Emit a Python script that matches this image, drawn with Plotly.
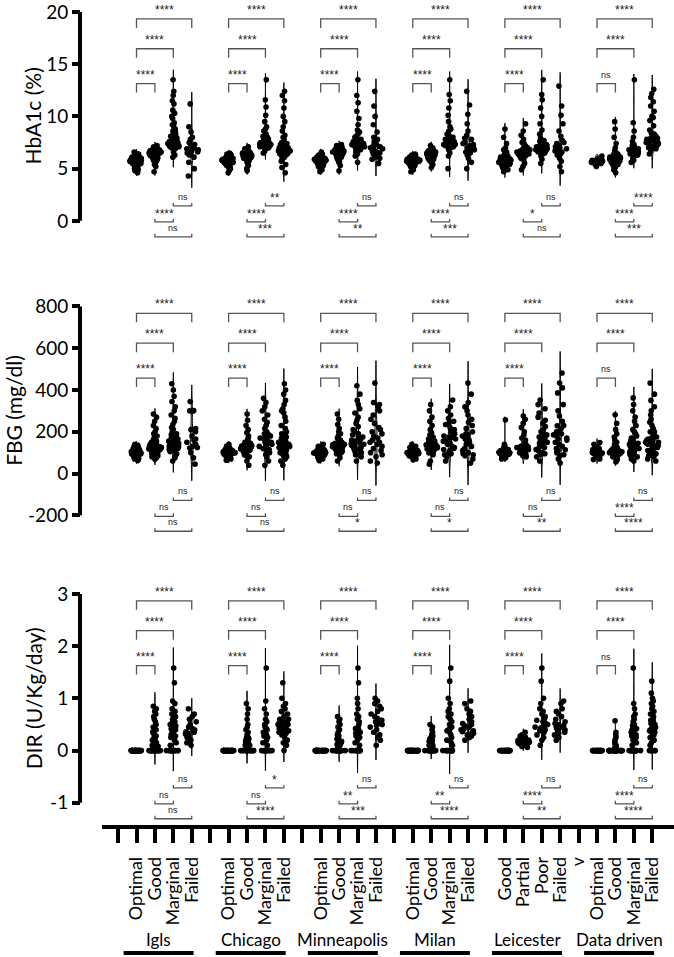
import plotly.graph_objects as go

FONT = "Lato"
W, H = 674, 957

# ---------------- categories ----------------
centres = ["Igls", "Chicago", "Minneapolis", "Milan", "Leicester", "Data driven"]
class_labels = [
    ["Optimal", "Good", "Marginal", "Failed"],
    ["Optimal", "Good", "Marginal", "Failed"],
    ["Optimal", "Good", "Marginal", "Failed"],
    ["Optimal", "Good", "Marginal", "Failed"],
    ["Good", "Partial", "Poor", "Failed"],
    ["Optimal", "Good", "Marginal", "Failed"],
]
gap_labels = ["", "", "", "", "v"]

# ---------------- HbA1c (%) ----------------
hba_igls_opt = [5.8,5.6,5.9,6.0,5.7,5.5,5.8,6.1,5.4,5.9,5.7,6.2,5.3,5.8,6.0,5.6,5.9,5.2,6.3,5.7,5.8,5.5,6.1,4.9,6.4,5.0,5.8,5.6,6.0,4.6,6.6,5.7,5.9,5.4,6.2,5.8,
                5.8,5.9,5.7,6.0,5.6,5.8,5.5,6.1,5.9,5.7,5.4,6.2,5.8,5.6,6.0,5.3,5.9,6.3,5.7,5.1,6.0,5.8,5.5,6.4,5.6,4.8,5.9,6.1,5.7,5.2]
hba_igls_good = [6.5,6.3,6.6,6.8,6.2,6.4,6.7,6.0,6.9,6.5,5.8,6.6,7.0,6.1,6.4,5.5,6.8,6.3,7.2,6.6,5.2,6.5,6.2,4.7,6.9,6.7,6.0,6.4,5.9,6.6,
                 6.5,6.6,6.4,6.7,6.3,6.5,6.8,6.2,6.6,6.9,6.1,6.5,6.7,6.3,6.0,6.4,6.8,5.7,6.6,7.1,6.2,5.4,6.5,6.9]
hba_igls_marg = [7.0,7.2,7.1,7.4,7.6,7.3,7.8,8.0,7.5,7.1,8.3,6.9,7.7,8.6,7.2,9.0,7.4,6.6,8.2,9.4,7.0,7.9,10.0,6.3,8.5,10.6,7.3,11.2,7.6,12.0,8.8,12.4,6.1,13.5,7.0,9.8,7.2,11.5,7.5,8.1,
                 7.1,7.3,7.0,7.5,7.2,7.8,7.4,8.1,7.6,7.0,8.4,7.3,9.2,7.7,10.3]
hba_igls_fail = [6.5,6.8,7.0,6.3,7.5,6.7,8.0,6.1,7.2,5.6,6.9,8.5,6.4,5.0,7.8,4.3,6.6,11.2,7.3,9.0]

hba_chi_opt = [5.8,5.7,5.9,6.0,5.6,5.5,5.8,6.1,5.4,5.9,5.7,6.2,5.3,5.8,6.0,5.6,5.9,5.1,6.3,5.7,5.8,5.5,6.1,4.8,6.4,5.0,5.8,5.6,6.0,4.6,6.5,5.7,
               5.8,5.9,5.7,6.0,5.6,5.8,5.5,6.1,5.9,5.7,5.4,6.2,5.8,5.6,6.0,5.3,5.9,6.3,5.7,5.2,6.0,5.8,5.5,6.4]
hba_chi_good = [6.3,6.1,6.4,6.6,6.0,6.2,6.5,5.8,6.7,6.3,5.6,6.4,6.9,5.9,6.2,5.3,6.6,6.1,7.1,6.4,5.0,6.3,6.0,4.8,6.8,6.5,5.7,6.2,
                6.3,6.4,6.2,6.5,6.1,6.3,6.6,6.0,6.4,6.7,5.9,6.3,6.5,6.1,5.8,6.2,6.6,5.5,6.4,6.9]
hba_chi_marg = [7.0,7.1,7.2,7.0,7.3,7.4,7.1,7.5,7.2,7.6,7.3,7.8,7.0,8.0,7.4,8.3,7.1,8.6,7.6,9.0,7.2,9.5,7.3,10.1,7.7,10.9,8.1,11.6,7.4,13.5,6.7,7.9,6.5,
                7.0,7.2,7.1,7.3,7.5,7.2,7.8,7.4,8.2,7.6,8.8]
hba_chi_fail = [6.7,6.9,6.5,7.1,6.3,7.3,6.8,6.1,7.5,6.6,7.8,6.0,7.0,8.2,6.4,5.7,8.6,6.9,5.4,9.0,6.6,9.5,7.2,5.1,10.0,6.8,10.8,7.4,4.6,11.5,12.0,12.4,8.0,6.2,
                6.7,6.8,6.6,7.0,6.5,7.2,6.9,6.4,7.4,6.7]

hba_min_opt = [5.8,5.6,5.9,6.0,5.7,5.5,5.8,6.1,5.4,5.9,5.7,6.2,5.3,5.8,6.0,5.6,5.9,5.2,6.3,5.7,5.8,5.5,6.1,4.9,6.4,5.0,5.8,5.6,6.0,4.7,6.6,
               5.8,5.9,5.7,6.0,5.6,5.8,5.5,6.1,5.9,5.7,5.4,6.2,5.8,5.6,6.0,5.3,5.9,6.3,5.7,5.1,6.0]
hba_min_good = [6.6,6.4,6.7,6.9,6.3,6.5,6.8,6.1,7.0,6.6,5.9,6.7,7.1,6.2,6.5,5.6,6.9,6.4,7.3,6.7,5.3,6.6,6.3,4.8,7.0,6.8,6.1,6.5,
                6.6,6.7,6.5,6.8,6.4,6.6,6.9,6.3,6.7,7.0,6.2,6.6,6.8,6.4,6.0,6.5,5.7,7.2]
hba_min_marg = [7.0,7.2,6.8,7.4,7.1,7.6,6.9,7.8,7.3,8.0,6.6,7.5,8.3,7.1,8.7,6.4,7.7,9.2,7.0,9.8,6.2,8.1,10.5,7.4,11.3,5.6,12.0,13.5,7.2,8.5,
                7.0,7.1,7.3,6.9,7.5,7.2,7.7,7.0,7.9,7.4]
hba_min_fail = [6.7,6.9,6.5,7.1,6.3,7.3,6.8,6.1,7.6,6.6,8.0,5.9,7.0,8.5,6.4,5.5,9.2,6.9,10.0,7.2,11.0,12.4,6.0,7.8]

hba_mil_opt = [5.7,5.6,5.9,6.0,5.7,5.5,5.8,6.1,5.4,5.9,5.7,6.2,5.3,5.8,6.0,5.6,5.9,5.2,6.3,5.7,5.8,5.5,6.1,4.9,6.4,5.0,5.8,5.6,6.0,4.7,
               5.8,5.9,5.7,6.0,5.6,5.8,5.5,6.1,5.9,5.7,5.4,6.2,5.8,5.6,6.0,5.3,5.9,6.3,5.7,5.1,6.0]
hba_mil_good = [6.4,6.2,6.5,6.7,6.1,6.3,6.6,5.9,6.8,6.4,5.7,6.5,7.0,6.0,6.3,5.4,6.7,6.2,7.2,6.5,5.1,6.4,6.1,6.9,6.6,5.8,
                6.4,6.5,6.3,6.6,6.2,6.4,6.7,6.1,6.5,6.8,6.0,6.4,6.6,6.2,5.9,6.3,6.7,5.6]
hba_mil_marg = [7.2,7.4,7.0,7.6,7.3,7.8,7.1,8.0,7.5,8.3,6.8,7.7,8.6,7.2,9.0,6.5,7.9,9.5,7.4,10.1,6.2,8.2,10.8,7.0,11.5,5.0,12.1,13.5,7.6,8.8,
                7.1,7.3,7.2,7.5,7.0,7.4,7.7,7.3,8.1,7.6]
hba_mil_fail = [6.9,7.1,6.7,7.3,6.5,7.5,7.0,6.3,7.8,6.8,8.2,6.0,7.2,8.6,6.6,5.6,9.3,7.0,10.2,7.4,11.1,12.4,5.0,7.9,6.4]

hba_lei_good = [5.7,5.5,5.9,6.1,5.3,5.8,6.3,5.1,6.0,5.6,6.5,4.9,5.8,6.8,5.4,7.0,4.7,6.2,7.4,5.7,8.0,6.0,8.8,5.2,6.6,
                5.7,5.8,5.6,5.9,5.5,6.0,5.4,6.2,5.7,5.3,6.4,5.9]
hba_lei_part = [6.6,6.4,6.8,6.2,7.0,6.5,7.2,6.0,6.7,7.5,5.8,6.9,7.8,5.5,6.3,8.2,5.2,7.1,8.6,6.6,9.3,4.9,7.4,6.1,
                6.6,6.7,6.5,6.8,6.4,6.9,6.3,7.0,6.6,6.2]
hba_lei_poor = [6.9,7.1,6.7,7.3,6.5,7.6,6.8,6.2,7.9,7.0,8.3,5.9,7.2,8.7,6.6,5.5,9.3,7.4,10.0,6.8,10.8,11.6,12.1,13.5,7.7,6.4,
                6.9,7.0,6.8,7.2,6.7,7.4,7.1]
hba_lei_fail = [6.7,6.9,6.5,7.1,6.3,7.4,6.8,6.0,7.7,6.6,8.1,5.7,7.0,8.6,6.4,5.2,9.3,7.2,10.1,11.0,12.9,4.7,7.5]

hba_dd_opt = [5.7,5.6,5.8,5.7,5.5,5.9,5.6,5.8,5.4,6.0,5.7,5.2,6.2,5.6,5.8]
hba_dd_good = [5.9,5.7,6.1,5.8,6.3,5.5,6.0,6.5,5.3,5.9,6.7,5.1,6.2,5.8,7.0,4.9,6.4,7.4,5.6,8.0,4.6,6.1,8.8,9.5,5.7,6.0,
               5.9,6.0,5.8,6.1,5.7,6.2,5.6,6.3,5.9,5.5,6.0,5.8,6.4,5.4]
hba_dd_marg = [6.6,6.4,6.8,6.5,7.0,6.2,6.7,7.3,6.0,6.9,7.6,5.8,6.6,8.0,5.6,7.2,8.6,6.3,9.4,6.8,13.5,6.5,
               6.6,6.7,6.5,6.8,6.4,6.9,6.3,7.1]
hba_dd_fail = [7.5,7.7,7.3,7.9,7.1,8.1,7.6,6.9,8.4,7.4,8.7,6.7,7.8,9.1,7.2,9.6,6.4,8.0,10.0,7.0,10.5,11.0,11.4,11.8,12.2,12.6,8.3,9.9,
               7.5,7.6,7.4,7.8,7.3,7.9,7.2,8.2,7.6,7.0]

# ---------------- FBG (mg/dl) ----------------
fbg_igls_opt = [100,95,105,110,90,102,98,115,85,108,120,80,100,125,75,96,130,70,104,140,92,112,62,100,88,
                100,105,95,110,92,98,115,88,102,120,85,108,96,125,80,104,112,78,130,100,94,118,72,106,135]
fbg_igls_good = [120,115,125,130,110,135,105,140,118,145,100,150,122,160,95,170,128,180,90,190,112,200,85,215,132,230,80,250,138,270,75,285,118,68,155,
                 122,118,128,112,132,108,138,125,145,115,150,120,130,110,160,125]
fbg_igls_marg = [150,140,160,130,170,145,180,125,190,135,200,120,210,155,220,115,235,165,250,110,265,175,280,105,300,185,320,95,345,140,370,90,400,430,75,60,160,130,
                 145,150,140,155,135,160,130,165,150,125]
fbg_igls_fail = [345,300,302,298,215,200,180,165,160,150,130,125,122,100,75,45,210,140]

fbg_chi_opt = [100,96,104,110,90,102,98,115,85,108,120,80,100,125,75,96,132,70,104,140,92,112,64,100,
               100,105,95,110,92,98,115,88,102,120,85,108,96,125,80,104,112]
fbg_chi_good = [120,115,125,130,110,135,105,140,118,145,100,150,122,160,95,170,128,180,90,195,112,210,85,230,132,255,80,285,138,60,40,150,
                122,118,128,112,132,108,138,125,145,115,120,130]
fbg_chi_marg = [150,145,155,140,160,135,170,130,180,125,190,150,200,120,215,165,230,115,245,175,260,110,280,100,300,90,320,340,360,80,60,40,185]
fbg_chi_fail = [130,140,120,150,110,160,125,170,100,180,135,190,95,200,145,215,90,230,155,250,85,270,165,290,80,300,310,70,330,350,60,380,400,430,40,175,125,
                130,135,125,140,120,145,115,150]

fbg_min_opt = [100,95,105,110,90,102,98,115,85,108,120,80,100,125,75,96,130,70,104,140,92,112,62,
               100,105,95,110,92,98,115,88,102,120,85,108,96,125,80,104]
fbg_min_good = [130,125,135,140,120,145,115,150,128,155,110,160,132,170,105,180,138,190,100,200,122,215,95,235,142,260,90,285,75,60,
                130,126,134,122,140,118,145,128,150,112]
fbg_min_marg = [160,150,170,140,180,135,190,130,200,125,210,155,225,120,240,165,255,115,270,175,290,105,310,100,330,90,350,380,420,80,60,185,145]
fbg_min_fail = [180,160,200,150,220,140,240,130,260,120,280,170,300,110,320,100,340,90,190,80,60,210,150,50,330,433]

fbg_mil_opt = [100,95,105,110,90,102,98,115,85,108,120,80,100,125,75,96,130,70,104,140,92,112,66,
               100,105,95,110,92,98,115,88,102,120,85,108,96,125,80]
fbg_mil_good = [133,128,138,143,123,148,118,153,130,158,113,165,135,175,108,185,140,195,103,210,125,230,98,250,145,270,90,300,330,60,45,
                133,129,137,124,142,120,150,130,155,115]
fbg_mil_marg = [160,150,170,140,180,130,190,125,200,120,210,155,220,115,235,165,250,110,265,175,280,100,300,95,320,90,352,80,60,185,145,240]
fbg_mil_fail = [170,160,180,150,190,140,200,130,215,120,230,165,245,110,260,100,280,95,300,90,320,85,340,380,433,70,50,185,150]

fbg_lei_good = [100,95,105,110,90,102,98,115,85,108,120,80,100,125,75,130,70,104,140,257,92,112,
                100,104,96,108,92,112,88,118,100,95]
fbg_lei_part = [115,110,120,125,105,130,100,135,118,140,95,150,122,160,90,170,128,185,85,200,112,220,80,240,260,275,132,
                115,120,110,125,105,130]
fbg_lei_poor = [160,150,170,140,180,130,190,125,200,120,210,155,225,115,240,165,255,110,270,175,290,100,310,95,330,90,352,80,60,185,145]
fbg_lei_fail = [170,160,180,150,190,140,200,130,215,120,230,165,114,110,250,100,275,90,300,85,330,386,410,433,481,70,50,185,200,229]

fbg_dd_opt = [100,95,105,110,90,102,98,115,85,108,120,80,100,125,75,96,130,70,104,140,92,112,67,148]
fbg_dd_good = [100,95,105,110,90,102,98,115,85,108,120,80,100,125,75,130,70,104,140,92,112,150,160,175,190,210,240,281,65,55,96,
               100,104,96,108,92,112,88,118,100,95,106,98]
fbg_dd_marg = [133,128,138,120,145,115,150,110,160,105,170,100,180,95,190,140,200,90,210,125,230,85,250,80,270,300,330,362,70,60,155,
               130,135,125,140,120,145]
fbg_dd_fail = [150,140,160,130,170,125,180,120,190,115,200,110,215,100,230,95,245,165,260,90,280,85,300,80,320,70,350,380,433,60,175,140,200,
               150,145,155,140,160,135]

# ---------------- DIR (U/Kg/day) ----------------
dir_igls_opt = [0] * 30
dir_igls_good = [0] * 14 + [0.05,0.08,0.1,0.12,0.15,0.18,0.2,0.22,0.25,0.28,0.3,0.33,0.36,0.4,0.45,0.5,0.55,0.6,0.65,0.7,0.75,0.8,0.85,0.15,0.2,0.1]
dir_igls_marg = [0] * 12 + [0.1,0.15,0.2,0.25,0.3,0.33,0.36,0.4,0.42,0.45,0.5,0.55,0.6,0.65,0.7,0.75,0.8,0.9,0.95,1.3,1.58,0.38,0.28,0.47,0.52,0.62]
dir_igls_fail = [0.35,0.3,0.4,0.33,0.45,0.28,0.5,0.25,0.55,0.38,0.6,0.2,0.65,0.42,0.7,0.15,0.8,0.32,0.36,0.1]

dir_chi_opt = [0] * 30
dir_chi_good = [0] * 12 + [0.05,0.1,0.12,0.15,0.18,0.2,0.22,0.25,0.3,0.35,0.4,0.45,0.5,0.6,0.7,0.8,0.9,0.15,0.2,0.1,0.25]
dir_chi_marg = [0] * 10 + [0.1,0.15,0.2,0.25,0.3,0.35,0.4,0.45,0.5,0.55,0.6,0.7,0.8,0.95,1.58,0.33,0.28,0.42]
dir_chi_fail = [0.45,0.4,0.5,0.35,0.55,0.3,0.6,0.42,0.65,0.25,0.7,0.38,0.75,0.2,0.8,0.48,0.85,0.15,0.9,0.52,1.0,0.1,1.3,0,0.58,0.33,
                0.45,0.5,0.4,0.55,0.35,0.6]

dir_min_opt = [0] * 30
dir_min_good = [0] * 12 + [0.05,0.08,0.1,0.12,0.15,0.18,0.2,0.22,0.25,0.28,0.3,0.35,0.4,0.45,0.5,0.55,0.6,0.65,0.12,0.18]
dir_min_marg = [0] * 10 + [0.1,0.15,0.2,0.25,0.3,0.35,0.4,0.45,0.5,0.55,0.6,0.65,0.7,0.8,0.9,1.0,1.3,1.58,0.38,0.42,0.28,0.33]
dir_min_fail = [0.55,0.5,0.6,0.45,0.65,0.4,0.7,0.35,0.75,0.3,0.8,0.58,0.85,0.25,0.9,0.48,0.95,0.2,1.0,0.62,0.1,0.52]

dir_mil_opt = [0] * 30
dir_mil_good = [0] * 12 + [0.05,0.08,0.1,0.12,0.14,0.16,0.18,0.2,0.22,0.25,0.28,0.3,0.35,0.4,0.45,0.5,0.15,0.1]
dir_mil_marg = [0] * 10 + [0.1,0.15,0.2,0.25,0.3,0.35,0.4,0.45,0.5,0.55,0.6,0.65,0.7,0.75,0.8,0.9,1.0,1.33,1.58,0.38,0.42]
dir_mil_fail = [0.4,0.38,0.45,0.35,0.5,0.3,0.55,0.42,0.6,0.25,0.65,0.48,0.7,0.2,0.75,0.33,0.8,0.52,0.9,0.95,0.36,0.28]

dir_lei_good = [0] * 25
dir_lei_part = [0.17,0.15,0.19,0.14,0.2,0.12,0.22,0.16,0.24,0.1,0.18,0.26,0.08,0.21,0.28,0.13,0.3,0.06,0.35,0.17,0.19,0.15]
dir_lei_poor = [0.45,0.4,0.5,0.35,0.55,0.42,0.6,0.3,0.65,0.48,0.7,0.25,0.75,0.38,0.8,0.52,0.9,0.2,1.0,0.44,1.33,1.58,0.1,0.58]
dir_lei_fail = [0.45,0.4,0.5,0.35,0.55,0.42,0.6,0.3,0.65,0.48,0.7,0.25,0.75,0.38,0.8,0.2,0.9,0.52,0.95,0.44,0.33]

dir_dd_opt = [0] * 20
dir_dd_good = [0] * 30 + [0.05,0.08,0.1,0.12,0.15,0.2,0.25,0.3,0.35,0.57]
dir_dd_marg = [0] * 12 + [0.1,0.15,0.2,0.25,0.3,0.35,0.4,0.45,0.5,0.55,0.6,0.65,0.7,0.8,0.9,1.58,0.28,0.33,0.38,0.42,0.48]
dir_dd_fail = [0] * 6 + [0.4,0.35,0.45,0.3,0.5,0.38,0.55,0.25,0.6,0.42,0.65,0.2,0.7,0.48,0.75,0.15,0.8,0.52,0.85,0.1,0.9,0.58,0.95,1.0,1.1,1.33,0.36,0.44,0.32]

# ---------------- significance labels ----------------
# upper brackets: (1st vs 2nd), (1st vs 3rd), (1st vs 4th)
# lower brackets: (3rd vs 4th), (2nd vs 3rd), (2nd vs 4th)
hba_sig_top = [["****", "****", "****"]] * 5 + [["ns", "****", "****"]]
hba_sig_bot = [["ns", "****", "ns"], ["**", "****", "***"], ["ns", "****", "**"],
               ["ns", "****", "***"], ["ns", "*", "ns"], ["****", "****", "***"]]
fbg_sig_top = [["****", "****", "****"]] * 5 + [["ns", "****", "****"]]
fbg_sig_bot = [["ns", "ns", "ns"], ["ns", "ns", "ns"], ["ns", "ns", "*"],
               ["ns", "ns", "*"], ["ns", "ns", "**"], ["ns", "****", "****"]]
dir_sig_top = [["****", "****", "****"]] * 5 + [["ns", "****", "****"]]
dir_sig_bot = [["ns", "ns", "ns"], ["*", "ns", "****"], ["ns", "**", "***"],
               ["ns", "**", "****"], ["ns", "****", "**"], ["ns", "****", "****"]]

hba_ticks = [0, 5, 10, 15, 20]
fbg_ticks = [-200, 0, 200, 400, 600, 800]
dir_ticks = [-1, 0, 1, 2, 3]

hba_data = [[hba_igls_opt, hba_igls_good, hba_igls_marg, hba_igls_fail],
            [hba_chi_opt, hba_chi_good, hba_chi_marg, hba_chi_fail],
            [hba_min_opt, hba_min_good, hba_min_marg, hba_min_fail],
            [hba_mil_opt, hba_mil_good, hba_mil_marg, hba_mil_fail],
            [hba_lei_good, hba_lei_part, hba_lei_poor, hba_lei_fail],
            [hba_dd_opt, hba_dd_good, hba_dd_marg, hba_dd_fail]]
fbg_data = [[fbg_igls_opt, fbg_igls_good, fbg_igls_marg, fbg_igls_fail],
            [fbg_chi_opt, fbg_chi_good, fbg_chi_marg, fbg_chi_fail],
            [fbg_min_opt, fbg_min_good, fbg_min_marg, fbg_min_fail],
            [fbg_mil_opt, fbg_mil_good, fbg_mil_marg, fbg_mil_fail],
            [fbg_lei_good, fbg_lei_part, fbg_lei_poor, fbg_lei_fail],
            [fbg_dd_opt, fbg_dd_good, fbg_dd_marg, fbg_dd_fail]]
dir_data = [[dir_igls_opt, dir_igls_good, dir_igls_marg, dir_igls_fail],
            [dir_chi_opt, dir_chi_good, dir_chi_marg, dir_chi_fail],
            [dir_min_opt, dir_min_good, dir_min_marg, dir_min_fail],
            [dir_mil_opt, dir_mil_good, dir_mil_marg, dir_mil_fail],
            [dir_lei_good, dir_lei_part, dir_lei_poor, dir_lei_fail],
            [dir_dd_opt, dir_dd_good, dir_dd_marg, dir_dd_fail]]

# ---------------- layout geometry (pixels) ----------------
SLOT0_PX, SLOT_PX = 136.5, 18.42
X_START_PX = 102
X_AXIS_PX = 826
Y_LINE_PX = 80

panels = [
    dict(title="HbA1c (%)", data=hba_data, top=hba_sig_top, bot=hba_sig_bot,
         px_top=7, px_bot=217, vmin=0, vmax=20, dom=(0, 245), ticks=hba_ticks,
         title_x=32),
    dict(title="FBG (mg/dl)", data=fbg_data, top=fbg_sig_top, bot=fbg_sig_bot,
         px_top=303, px_bot=513, vmin=-200, vmax=800, dom=(285, 540),
         ticks=fbg_ticks, title_x=14),
    dict(title="DIR (U/Kg/day)", data=dir_data, top=dir_sig_top, bot=dir_sig_bot,
         px_top=592, px_bot=802, vmin=-1, vmax=3, dom=(575, 823), ticks=dir_ticks,
         title_x=33),
]


def px2v(p, px):
    return p["vmax"] - (px - p["px_top"]) / (p["px_bot"] - p["px_top"]) * (p["vmax"] - p["vmin"])


fig = go.Figure()
shapes, annots = [], []
BR_COLOR = "#555555"
LBL_COLOR = "#222222"
MARK = dict(color="black", size=5.6, line=dict(width=0))

for k, p in enumerate(panels):
    yname = "y" if k == 0 else "y%d" % (k + 1)
    lname = "yaxis" if k == 0 else "yaxis%d" % (k + 1)
    xs, ys, zx, zy = [], [], [], []
    for g, grp in enumerate(p["data"]):
        for c, vals in enumerate(grp):
            slot = 5 * g + c
            if max(vals) == min(vals):
                zx += [slot] * len(vals)
                zy += list(vals)
            else:
                xs += [slot] * len(vals)
                ys += list(vals)
    fig.add_trace(go.Violin(
        x=xs, y=ys, xaxis="x", yaxis=yname, width=0.85, scalemode="width",
        fillcolor="#d9d9d9", line=dict(color="black", width=1),
        points="all", pointpos=0, jitter=0.9, marker=MARK,
        showlegend=False, hoverinfo="skip"))
    if zx:
        fig.add_trace(go.Violin(
            x=zx, y=zy, xaxis="x", yaxis=yname, width=0.6, scalemode="width",
            bandwidth=0.05, spanmode="hard",
            fillcolor="rgba(0,0,0,0)", line=dict(color="rgba(0,0,0,0)", width=0),
            points="all", pointpos=0, jitter=1, marker=MARK,
            showlegend=False, hoverinfo="skip"))

    # y-axis line (only across the value span)
    shapes.append(dict(type="line", xref="paper", yref=yname,
                       x0=Y_LINE_PX / W, x1=Y_LINE_PX / W, y0=p["vmin"], y1=p["vmax"],
                       line=dict(color="black", width=4)))

    # brackets
    up_specs = [((0, 1), 72), ((0, 2), 37), ((0, 3), 7)]
    lo_specs = [((2, 3), -15), ((1, 2), 1), ((1, 3), 16)]
    for g in range(len(centres)):
        b = 5 * g
        for idx, ((i, j), off) in enumerate(up_specs):
            lp = p["px_top"] + off
            yl, yleg = px2v(p, lp), px2v(p, lp + 9)
            shapes.append(dict(type="path", xref="x", yref=yname,
                               path="M %f,%f L %f,%f L %f,%f L %f,%f" % (b + i, yleg, b + i, yl, b + j, yl, b + j, yleg),
                               line=dict(color=BR_COLOR, width=1.3)))
            txt = p["top"][g][idx]
            annots.append(dict(x=b + (i + j) / 2, y=px2v(p, lp - (9 if txt == "ns" else 9)),
                               xref="x", yref=yname, xanchor="center", yanchor="middle",
                               text=txt, showarrow=False,
                               font=dict(size=9 if txt == "ns" else 12, color=LBL_COLOR,
                                         family="Liberation Sans")))
        for idx, ((i, j), off) in enumerate(lo_specs):
            lp = p["px_bot"] + off
            yl, yleg = px2v(p, lp), px2v(p, lp - 3)
            shapes.append(dict(type="path", xref="x", yref=yname,
                               path="M %f,%f L %f,%f L %f,%f L %f,%f" % (b + i, yleg, b + i, yl, b + j, yl, b + j, yleg),
                               line=dict(color=BR_COLOR, width=1.3)))
            txt = p["bot"][g][idx]
            annots.append(dict(x=b + (i + j) / 2, y=px2v(p, lp - (9 if txt == "ns" else 8)),
                               xref="x", yref=yname, xanchor="center", yanchor="middle",
                               text=txt, showarrow=False,
                               font=dict(size=9 if txt == "ns" else 12, color=LBL_COLOR,
                                         family="Liberation Sans")))

    # axis title
    annots.append(dict(x=p["title_x"] / W, y=1 - ((p["px_top"] + p["px_bot"]) / 2) / H,
                       xref="paper", yref="paper", xanchor="center", yanchor="middle",
                       text=p["title"], textangle=-90,
                       showarrow=False, font=dict(size=21, color="black", family=FONT)))

    d0, d1 = p["dom"]
    fig.update_layout(**{lname: dict(
        domain=[1 - d1 / H, 1 - d0 / H],
        range=[px2v(p, d1), px2v(p, d0)],
        anchor="free", position=Y_LINE_PX / W,
        showline=False, showgrid=False, zeroline=False,
        tickmode="array", tickvals=p["ticks"], ticktext=[str(t) for t in p["ticks"]],
        ticks="outside", ticklen=8, tickwidth=4, tickcolor="black",
        ticklabeloverflow="allow",
        tickfont=dict(size=19, color="black", family=FONT),
    )})

# x axis: slot -1 .. 28
tick_vals, tick_text = [-1], [""]
for g, labs in enumerate(class_labels):
    for c, lab in enumerate(labs):
        tick_vals.append(5 * g + c)
        tick_text.append(lab)
    if g < len(gap_labels):
        tick_vals.append(5 * g + 4)
        tick_text.append(gap_labels[g])

x0r = (X_START_PX - SLOT0_PX) / SLOT_PX
x1r = (W - SLOT0_PX) / SLOT_PX

# centre labels and underline bars
for g, name in enumerate(centres):
    b = 5 * g
    annots.append(dict(x=b + 1.2, y=1 - 939 / H, xref="x", yref="paper", text=name,
                       xanchor="center", yanchor="middle",
                       showarrow=False, font=dict(size=17, color="black", family=FONT)))
    shapes.append(dict(type="line", xref="x", yref="paper", x0=b - 0.7, x1=b + 3.1,
                       y0=1 - 953 / H, y1=1 - 953 / H, line=dict(color="black", width=4)))

fig.update_layout(
    width=W, height=H, margin=dict(l=0, r=0, t=0, b=0),
    paper_bgcolor="white", plot_bgcolor="white",
    font=dict(family=FONT, color="black"),
    violinmode="overlay",
    xaxis=dict(domain=[X_START_PX / W, 1], range=[x0r, x1r],
               anchor="free", position=1 - X_AXIS_PX / H,
               showline=True, linewidth=4, linecolor="black",
               showgrid=False, zeroline=False,
               tickmode="array", tickvals=tick_vals, ticktext=tick_text,
               ticks="outside", ticklen=14, tickwidth=4, tickcolor="black",
               tickangle=-90, ticklabelstandoff=7,
               tickfont=dict(size=18, color="black", family=FONT)),
    shapes=shapes, annotations=annots,
)

fig.write_html("out.html")
